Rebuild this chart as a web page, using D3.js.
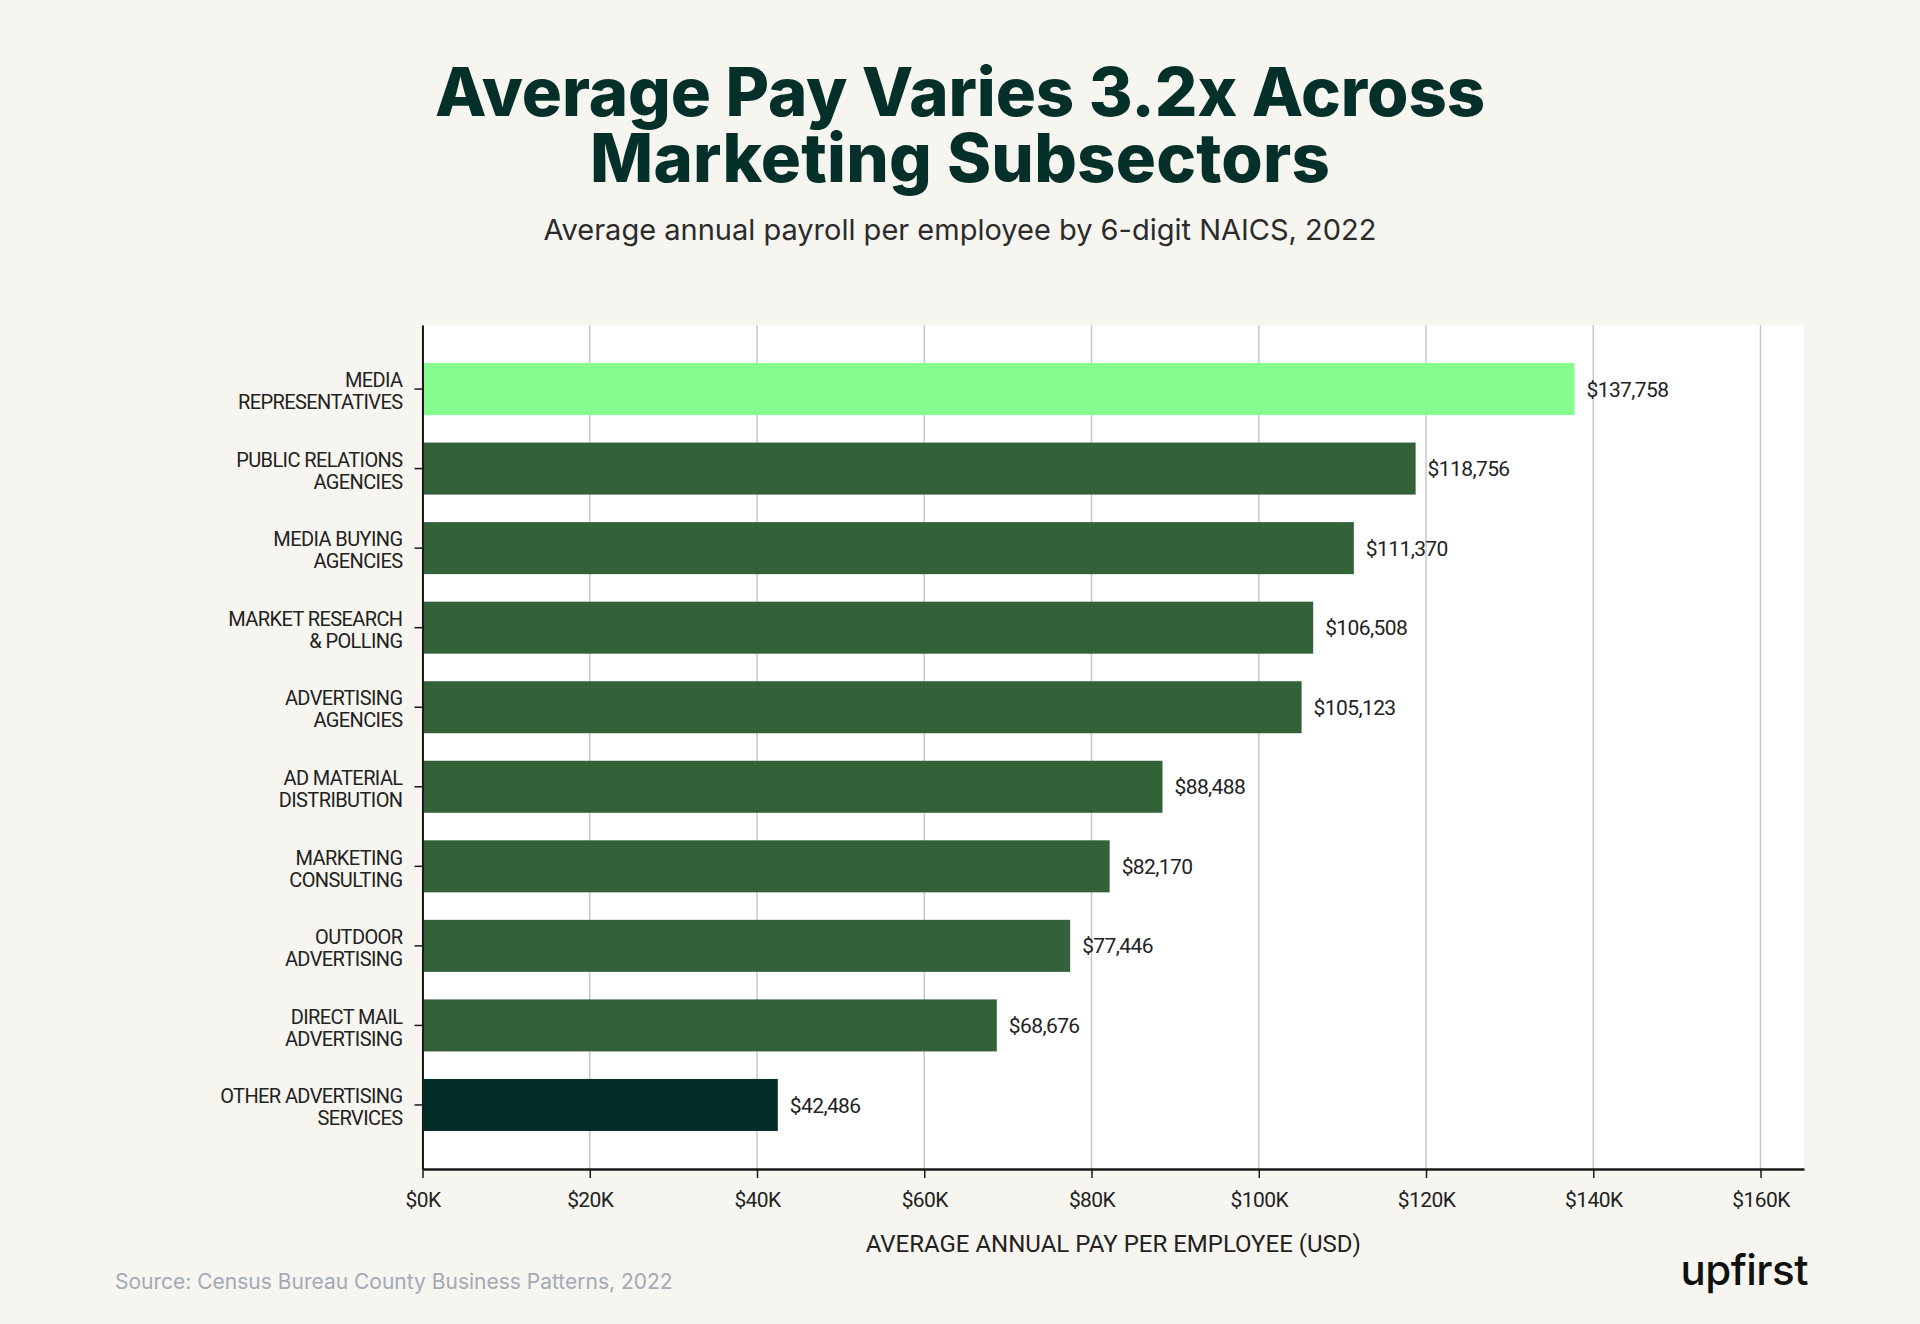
<!DOCTYPE html>
<html>
<head>
<meta charset="utf-8">
<script src="https://cdn.jsdelivr.net/npm/d3@7"></script>
<style>
  html, body { margin: 0; padding: 0; background: #f6f5ef; }
  svg { display: block; }
  .narrow { font-family: Roboto, sans-serif; letter-spacing: -0.6px; }
</style>
</head>
<body>
<div id="chart"></div>
<script>
// categories, top to bottom (\n = line break in the label)
var categories = [
  "MEDIA\nREPRESENTATIVES",
  "PUBLIC RELATIONS\nAGENCIES",
  "MEDIA BUYING\nAGENCIES",
  "MARKET RESEARCH\n& POLLING",
  "ADVERTISING\nAGENCIES",
  "AD MATERIAL\nDISTRIBUTION",
  "MARKETING\nCONSULTING",
  "OUTDOOR\nADVERTISING",
  "DIRECT MAIL\nADVERTISING",
  "OTHER ADVERTISING\nSERVICES"
];
var payValues = [137758, 118756, 111370, 106508, 105123, 88488, 82170, 77446, 68676, 42486];
var barColors = ["#86fb8e", "#336239", "#336239", "#336239", "#336239", "#336239", "#336239", "#336239", "#336239", "#022d29"];
var xTicks = [0, 20000, 40000, 60000, 80000, 100000, 120000, 140000, 160000];

var W = 1920, H = 1324;
var plotLeft = 422.5, plotRight = 1804, plotTop = 325, plotBottom = 1169;

var svg = d3.select("#chart").append("svg")
  .attr("width", W)
  .attr("height", H);

svg.append("rect").attr("width", W).attr("height", H).attr("fill", "#f6f5ef");

//Titles
var title = svg.append("g")
  .attr("font-family", "Inter, sans-serif")
  .attr("font-weight", 800)
  .attr("fill", "#05302a")
  .attr("text-anchor", "middle");
var t1 = title.append("text").attr("x", 960).attr("y", 116).attr("font-size", 67).text("Average Pay Varies 3.2x Across");
var t2 = title.append("text").attr("x", 960).attr("y", 182).attr("font-size", 67).text("Marketing Subsectors");

//squeeze the title to the width of the reference
function fitWidth(sel, target){
  var len = sel.node().getComputedTextLength();
  var n = sel.text().length;
  sel.attr("letter-spacing", ((target - len) / n).toFixed(2));
}
fitWidth(t1, 1050);
fitWidth(t2, 740);

svg.append("text")
  .attr("x", 960).attr("y", 240)
  .attr("text-anchor", "middle")
  .attr("font-family", "Inter, sans-serif")
  .attr("font-size", 29)
  .attr("fill", "#2b2b2b")
  .text("Average annual payroll per employee by 6-digit NAICS, 2022");

//scales
var xScale = d3.scaleLinear().domain([0, 165200]).range([plotLeft, plotRight]);
var yScale = d3.scaleBand()
  .domain(categories)
  .range([plotTop, plotBottom])
  .paddingInner(0.346)
  .paddingOuter(0.478);

//plot background
svg.append("rect")
  .attr("x", plotLeft).attr("y", plotTop)
  .attr("width", plotRight - plotLeft).attr("height", plotBottom - plotTop)
  .attr("fill", "#ffffff");

//grid lines
svg.append("g").selectAll("line")
  .data(xTicks)
  .enter().append("line")
    .attr("x1", function(d){ return xScale(d); })
    .attr("x2", function(d){ return xScale(d); })
    .attr("y1", plotTop).attr("y2", plotBottom)
    .attr("stroke", "#c8c8c8")
    .attr("stroke-width", 1.5);

//bars
svg.append("g").selectAll("rect")
  .data(payValues)
  .enter().append("rect")
    .attr("x", xScale(0))
    .attr("y", function(d, i){ return yScale(categories[i]); })
    .attr("width", function(d){ return xScale(d) - xScale(0); })
    .attr("height", yScale.bandwidth())
    .attr("fill", function(d, i){ return barColors[i]; });

//value labels
var fmt = d3.format("$,");
svg.append("g").selectAll("text")
  .data(payValues)
  .enter().append("text")
    .attr("class", "narrow")
    .attr("x", function(d){ return xScale(d) + 12; })
    .attr("y", function(d, i){ return yScale(categories[i]) + yScale.bandwidth() / 2; })
    .attr("dy", "0.36em")
    .attr("font-size", 21)
    .attr("fill", "#222")
    .text(function(d){ return fmt(d); });

//X axis
var xAxis = d3.axisBottom(xScale)
  .tickValues(xTicks)
  .tickSize(9)
  .tickSizeOuter(0)
  .tickFormat(function(d){ return "$" + (d / 1000) + "K"; });

var gx = svg.append("g")
  .attr("transform", "translate(0," + plotBottom + ")")
  .call(xAxis);
gx.attr("font-family", null);
gx.select(".domain").attr("stroke", "#1a1a1a").attr("stroke-width", 2.5);
gx.selectAll(".tick line").attr("stroke", "#1a1a1a").attr("stroke-width", 1.5);
gx.selectAll("text")
  .attr("class", "narrow")
  .attr("font-size", 21)
  .attr("fill", "#222")
  .attr("y", 23);

//Y axis
var yAxis = d3.axisLeft(yScale).tickSize(8).tickSizeOuter(0).tickPadding(12);
var gy = svg.append("g")
  .attr("transform", "translate(" + plotLeft + ",0)")
  .call(yAxis);
gy.attr("font-family", null);
gy.select(".domain").attr("stroke", "#1a1a1a").attr("stroke-width", 2);
gy.selectAll(".tick line").attr("stroke", "#1a1a1a").attr("stroke-width", 1.5);
gy.selectAll("text").each(function(d){
  var el = d3.select(this);
  var lines = d.split("\n");
  el.text(null)
    .attr("class", "narrow")
    .attr("font-size", 20)
    .attr("fill", "#222")
    .attr("dy", null)
    .attr("x", -20);
  lines.forEach(function(l, k){
    el.append("tspan")
      .attr("x", -20)
      .attr("y", 2 + (k - (lines.length - 1) / 2) * 22)
      .attr("dy", "0.36em")
      .text(l);
  });
});

//axis title
svg.append("text")
  .attr("class", "narrow")
  .attr("x", (plotLeft + plotRight) / 2).attr("y", 1252)
  .attr("text-anchor", "middle")
  .attr("font-size", 24)
  .attr("letter-spacing", 0)
  .attr("style", "letter-spacing:0")
  .attr("fill", "#222")
  .text("AVERAGE ANNUAL PAY PER EMPLOYEE (USD)");

//source
svg.append("text")
  .attr("x", 115).attr("y", 1289)
  .attr("font-family", "Inter, sans-serif")
  .attr("font-size", 21)
  .attr("fill", "#a3a9b5")
  .text("Source: Census Bureau County Business Patterns, 2022");

//logo
svg.append("text")
  .attr("x", 1808).attr("y", 1285)
  .attr("text-anchor", "end")
  .attr("font-family", "Inter, sans-serif")
  .attr("font-weight", 500)
  .attr("font-size", 42)
  .attr("letter-spacing", -0.5)
  .attr("fill", "#111")
  .text("upfirst");
</script>
</body>
</html>
